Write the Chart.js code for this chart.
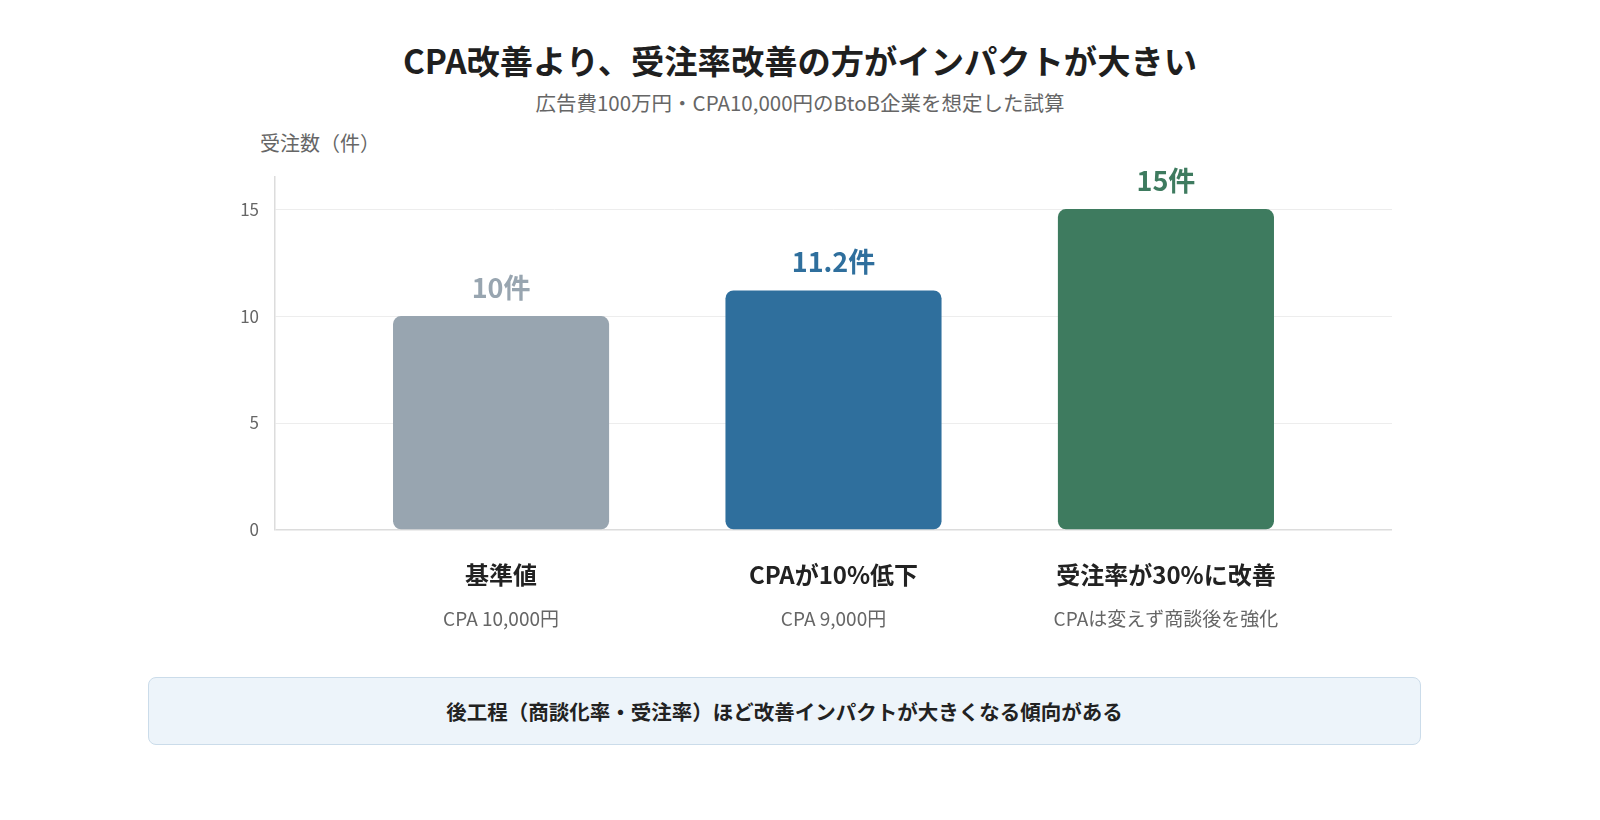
<!DOCTYPE html>
<html lang="ja">
<head>
<meta charset="utf-8">
<title>CPA改善より、受注率改善の方がインパクトが大きい</title>
<script src="https://cdn.jsdelivr.net/npm/chart.js@4"></script>
<style>
  html, body { margin: 0; padding: 0; background: #fff; }
  body {
    width: 1600px; height: 820px; position: relative; overflow: hidden;
    font-family: "Noto Sans CJK JP", "Noto Sans", sans-serif;
  }
  .title {
    position: absolute; left: 0; width: 1600px; top: 36px;
    text-align: center; font-size: 33.3px; font-weight: 700; color: #1f1f1f;
    line-height: 48px;
  }
  .subtitle {
    position: absolute; left: 0; width: 1600px; top: 87px;
    text-align: center; font-size: 20.5px; color: #666; line-height: 30px;
  }
  .ytitle {
    position: absolute; left: 260px; top: 129px;
    font-size: 20px; color: #666; line-height: 28px;
  }
  .wrap { position: absolute; left: 200px; top: 130px; width: 1200px; height: 520px; }
  .note {
    position: absolute; left: 148px; top: 677px; width: 1271px; height: 66px;
    background: #edf4fa; border: 1px solid #cbdcea; border-radius: 8px;
    text-align: center; line-height: 66px;
    font-size: 20.5px; font-weight: 700; color: #222;
  }
</style>
</head>
<body>
<div class="title">CPA改善より、受注率改善の方がインパクトが大きい</div>
<div class="subtitle">広告費100万円・CPA10,000円のBtoB企業を想定した試算</div>
<div class="ytitle">受注数（件）</div>
<div class="wrap"><canvas id="c"></canvas></div>
<div class="note">後工程（商談化率・受注率）ほど改善インパクトが大きくなる傾向がある</div>

<script>
// ── data ──
const categories = ['基準値', 'CPAが10%低下', '受注率が30%に改善'];
const subLabels = ['CPA 10,000円', 'CPA 9,000円', 'CPAは変えず商談後を強化'];
const orders = [10, 11.2, 15];
const valueLabels = ['10件', '11.2件', '15件'];
const yTicks = [0, 5, 10, 15];

const COLORS = ['#98a5b0', '#2f6f9d', '#3e7b5f'];
const FONT = '"Noto Sans CJK JP", "Noto Sans", sans-serif';

// value labels above bars + two-line category labels under the axis
const labelPlugin = {
    id: 'barLabels',
    afterDatasetsDraw(chart) {
        const { ctx, chartArea, scales } = chart;
        const meta = chart.getDatasetMeta(0);
        ctx.save();
        ctx.textAlign = 'center';
        meta.data.forEach((bar, i) => {
            ctx.fillStyle = COLORS[i];
            ctx.font = '700 27px ' + FONT;
            ctx.textBaseline = 'bottom';
            ctx.fillText(valueLabels[i], bar.x, bar.y - 15);
        });
        categories.forEach((c, i) => {
            const x = scales.x.getPixelForValue(i);
            ctx.textBaseline = 'middle';
            ctx.fillStyle = '#222';
            ctx.font = '700 24px ' + FONT;
            ctx.fillText(c, x, chartArea.bottom + 45);
            ctx.fillStyle = '#666';
            ctx.font = '19px ' + FONT;
            ctx.fillText(subLabels[i], x, chartArea.bottom + 89);
        });
        ctx.restore();
    }
};

new Chart(document.getElementById('c'), {
    type: 'bar',
    data: {
        datasets: [{
            data: orders.map((v, i) => ({ x: i, y: v })),
            backgroundColor: COLORS,
            borderRadius: 8,
            borderSkipped: false,
            barPercentage: 0.65,
            categoryPercentage: 1
        }]
    },
    options: {
        responsive: true,
        maintainAspectRatio: false,
        animation: false,
        layout: { padding: { top: 47, right: 8, bottom: 120, left: 0 } },
        plugins: { legend: { display: false }, tooltip: { enabled: false } },
        scales: {
            x: {
                type: 'linear',
                min: -0.68,
                max: 2.68,
                offset: false,
                display: false,
                afterBuildTicks: s => { s.ticks = categories.map((c, i) => ({ value: i })); }
            },
            y: {
                min: 0,
                max: 16.5,
                afterFit: s => { s.width = 75; },
                afterBuildTicks: s => { s.ticks = yTicks.map(v => ({ value: v })); },
                ticks: {
                    color: '#666',
                    padding: 16,
                    font: { size: 17, family: FONT }
                },
                grid: {
                    color: c => c.tick && c.tick.value === 0 ? '#dcdcdc' : '#ededed',
                    lineWidth: c => c.tick && c.tick.value === 0 ? 1.5 : 1,
                    drawTicks: false
                },
                border: { color: '#dcdcdc', width: 1.5 }
            }
        }
    },
    plugins: [labelPlugin]
});
</script>
</body>
</html>
